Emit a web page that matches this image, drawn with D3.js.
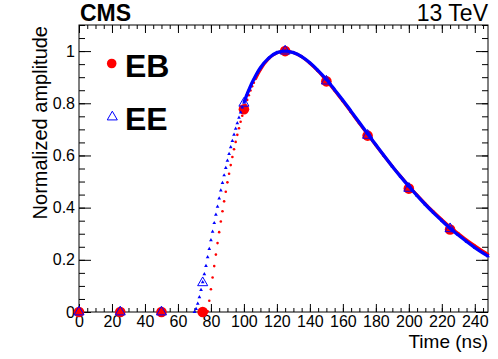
<!DOCTYPE html>
<html>
<head>
<meta charset="utf-8">
<script src="https://cdn.jsdelivr.net/npm/d3@7"></script>
<style>
  body { margin: 0; background: #fff; }
  text { font-family: "Liberation Sans", Arial, Helvetica, sans-serif; }
</style>
</head>
<body>
<div id="chart"></div>
<script>
// measured pulse samples (EB = barrel, EE = endcap)
var ebTime = [0, 25, 50, 75, 100, 125, 150, 175, 200, 225];
var ebAmp  = [0, 0, 0, 0, 0.777, 1.0, 0.884, 0.676, 0.473, 0.316];
var eeTime = [0, 25, 50, 75, 100, 125, 150, 175, 200, 225];
var eeAmp  = [0, 0, 0, 0.112, 0.80, 1.0, 0.885, 0.677, 0.474, 0.319];

// fitted pulse shapes
var ebFitTime = [78, 79, 80, 81, 82, 83, 84, 85, 86, 87, 88, 89, 90, 91, 92, 93, 94, 95, 96, 97, 98, 99,
  100, 101, 102, 103, 104, 105, 106, 107, 108, 110, 115, 120, 125, 130, 135, 140, 145, 150, 155, 160,
  165, 170, 175, 180, 185, 190, 195, 200, 205, 210, 215, 220, 225, 230, 235, 240, 245, 248];
var ebFitAmp = [0.003, 0.043, 0.087, 0.132, 0.176, 0.220, 0.264, 0.306, 0.347, 0.386, 0.424, 0.461,
  0.497, 0.530, 0.563, 0.594, 0.624, 0.652, 0.679, 0.704, 0.729, 0.752, 0.774, 0.794, 0.813, 0.831,
  0.849, 0.865, 0.879, 0.893, 0.906, 0.929, 0.971, 0.993, 1.000, 0.994, 0.978, 0.953, 0.923, 0.887,
  0.849, 0.808, 0.766, 0.723, 0.681, 0.639, 0.598, 0.558, 0.520, 0.483, 0.448, 0.415, 0.384, 0.354,
  0.326, 0.301, 0.276, 0.254, 0.233, 0.221];
var eeFitTime = [70, 71, 72, 73, 74, 75, 76, 77, 78, 79, 80, 81, 82, 83, 84, 85, 86, 87, 88, 89, 90, 91,
  92, 93, 94, 95, 96, 97, 98, 99, 100, 101, 102, 103, 104, 106, 108, 110, 115, 120, 125, 130, 135, 140,
  145, 150, 155, 160, 165, 170, 175, 180, 185, 190, 195, 200, 205, 210, 215, 220, 225, 230, 235, 240,
  245, 248];
var eeFitAmp = [0.0, 0.012, 0.032, 0.057, 0.085, 0.114, 0.145, 0.177, 0.210, 0.242, 0.275, 0.308,
  0.341, 0.373, 0.404, 0.435, 0.466, 0.495, 0.524, 0.552, 0.580, 0.606, 0.632, 0.656, 0.680, 0.703,
  0.724, 0.745, 0.765, 0.784, 0.802, 0.820, 0.836, 0.851, 0.866, 0.892, 0.916, 0.936, 0.973, 0.994,
  1.000, 0.994, 0.979, 0.955, 0.925, 0.891, 0.852, 0.812, 0.769, 0.726, 0.683, 0.641, 0.599, 0.558,
  0.519, 0.482, 0.446, 0.412, 0.380, 0.350, 0.321, 0.295, 0.270, 0.247, 0.226, 0.214];

var xTicks = [0, 20, 40, 60, 80, 100, 120, 140, 160, 180, 200, 220, 240];
var xTickLabels = ["0", "20", "40", "60", "80", "100", "120", "140", "160", "180", "200", "220", "240"];
var yTicks = [0, 0.2, 0.4, 0.6, 0.8, 1];
var yTickLabels = ["0", "0.2", "0.4", "0.6", "0.8", "1"];
var legendLabels = ["EB", "EE"];

var width = 498, height = 359;
var frameL = 79, frameR = 488, frameT = 25, frameB = 312;
var red = "#ff0000", blue = "#0000ff";

var svg = d3.select("#chart").append("svg")
  .attr("width", width)
  .attr("height", height);

svg.append("rect").attr("width", width).attr("height", height).attr("fill", "#fff");

// scales
var x = d3.scaleLinear().domain([0, 248]).range([frameL, frameR]);
var y = d3.scaleLinear().domain([0, 1.1]).range([frameB, frameT]);

var minorX = d3.range(0, 249, 5);
var minorY = d3.range(0, 1.1001, 0.05);

// axes: ticks point inwards on all four sides
function styleAxis(g) {
  g.select(".domain").remove();
  g.selectAll("line").attr("stroke", "#000").attr("stroke-width", 1);
  g.selectAll("text").attr("fill", "#000").attr("font-size", 16);
}

svg.append("g").attr("transform", "translate(0," + frameB + ")")
  .call(d3.axisBottom(x).tickValues(minorX).tickSize(-4).tickFormat("")).call(styleAxis);
svg.append("g").attr("transform", "translate(0," + frameB + ")")
  .call(d3.axisBottom(x).tickValues(xTicks).tickSize(-8).tickPadding(4)
    .tickFormat(function(d, i) { return xTickLabels[i]; }))
  .call(styleAxis);
svg.append("g").attr("transform", "translate(0," + frameT + ")")
  .call(d3.axisTop(x).tickValues(minorX).tickSize(-4).tickFormat("")).call(styleAxis);
svg.append("g").attr("transform", "translate(0," + frameT + ")")
  .call(d3.axisTop(x).tickValues(xTicks).tickSize(-8).tickFormat("")).call(styleAxis);

svg.append("g").attr("transform", "translate(" + frameL + ",0)")
  .call(d3.axisLeft(y).tickValues(minorY).tickSize(-6).tickFormat("")).call(styleAxis);
svg.append("g").attr("transform", "translate(" + frameL + ",0)")
  .call(d3.axisLeft(y).tickValues(yTicks).tickSize(-12).tickPadding(4)
    .tickFormat(function(d, i) { return yTickLabels[i]; }))
  .call(styleAxis);
svg.append("g").attr("transform", "translate(" + frameR + ",0)")
  .call(d3.axisRight(y).tickValues(minorY).tickSize(-6).tickFormat("")).call(styleAxis);
svg.append("g").attr("transform", "translate(" + frameR + ",0)")
  .call(d3.axisRight(y).tickValues(yTicks).tickSize(-12).tickFormat("")).call(styleAxis);

svg.append("rect")
  .attr("x", frameL).attr("y", frameT)
  .attr("width", frameR - frameL).attr("height", frameB - frameT)
  .attr("fill", "none").attr("stroke", "#000").attr("stroke-width", 1);

// fit curves: dense little markers, merging into a line after the rise
var ebFit = ebFitTime.map(function(t, i) { return {t: t, v: ebFitAmp[i]}; });
var eeFit = eeFitTime.map(function(t, i) { return {t: t, v: eeFitAmp[i]}; });
var line = d3.line()
  .x(function(d) { return x(d.t); })
  .y(function(d) { return y(d.v); })
  .curve(d3.curveMonotoneX);

var plot = svg.append("g");

plot.append("path")
  .datum(ebFit.filter(function(d) { return d.t >= 107; }))
  .attr("d", line).attr("fill", "none").attr("stroke", red).attr("stroke-width", 3);
plot.selectAll(".ebfit").data(ebFit).enter().append("circle")
  .attr("class", "ebfit")
  .attr("cx", function(d) { return x(d.t); })
  .attr("cy", function(d) { return y(d.v); })
  .attr("r", 1.3).attr("fill", red);

// EB points
plot.selectAll(".eb").data(ebTime).enter().append("circle")
  .attr("class", "eb")
  .attr("cx", function(d) { return x(d); })
  .attr("cy", function(d, i) { return y(ebAmp[i]); })
  .attr("r", 5.3).attr("fill", red);

var smallTri = d3.symbol().type(d3.symbolTriangle).size(6);
plot.append("path")
  .datum(eeFit.filter(function(d) { return d.t >= 100; }))
  .attr("d", line).attr("fill", "none").attr("stroke", blue).attr("stroke-width", 3.3);
plot.selectAll(".eefit").data(eeFit).enter().append("path")
  .attr("class", "eefit")
  .attr("transform", function(d) { return "translate(" + x(d.t) + "," + y(d.v) + ")"; })
  .attr("d", smallTri).attr("fill", blue);

// EE points
var bigTri = d3.symbol().type(d3.symbolTriangle).size(44);
plot.selectAll(".ee").data(eeTime).enter().append("path")
  .attr("class", "ee")
  .attr("transform", function(d, i) { return "translate(" + x(d) + "," + y(eeAmp[i]) + ")"; })
  .attr("d", bigTri).attr("fill", "none").attr("stroke", blue).attr("stroke-width", 1);

// legend
svg.append("circle").attr("cx", 111.7).attr("cy", 63.5).attr("r", 4.8).attr("fill", red);
svg.append("path").attr("transform", "translate(112.3,117)")
  .attr("d", bigTri).attr("fill", "none").attr("stroke", blue).attr("stroke-width", 1);
svg.selectAll(".leg").data(legendLabels).enter().append("text")
  .attr("class", "leg")
  .attr("x", 125)
  .attr("y", function(d, i) { return 77 + i * 53; })
  .attr("font-size", 32).attr("font-weight", "bold")
  .text(function(d) { return d; });

// titles
svg.append("text").attr("x", frameL + 1).attr("y", 21)
  .attr("font-size", 23).attr("font-weight", "bold").text("CMS");
svg.append("text").attr("x", frameR).attr("y", 21).attr("text-anchor", "end")
  .attr("font-size", 23).text("13 TeV");
svg.append("text").attr("x", frameR).attr("y", 348).attr("text-anchor", "end")
  .attr("font-size", 19).text("Time (ns)");
svg.append("text")
  .attr("transform", "translate(47,26)rotate(-90)")
  .attr("text-anchor", "end")
  .attr("font-size", 20).text("Normalized amplitude");
</script>
</body>
</html>
